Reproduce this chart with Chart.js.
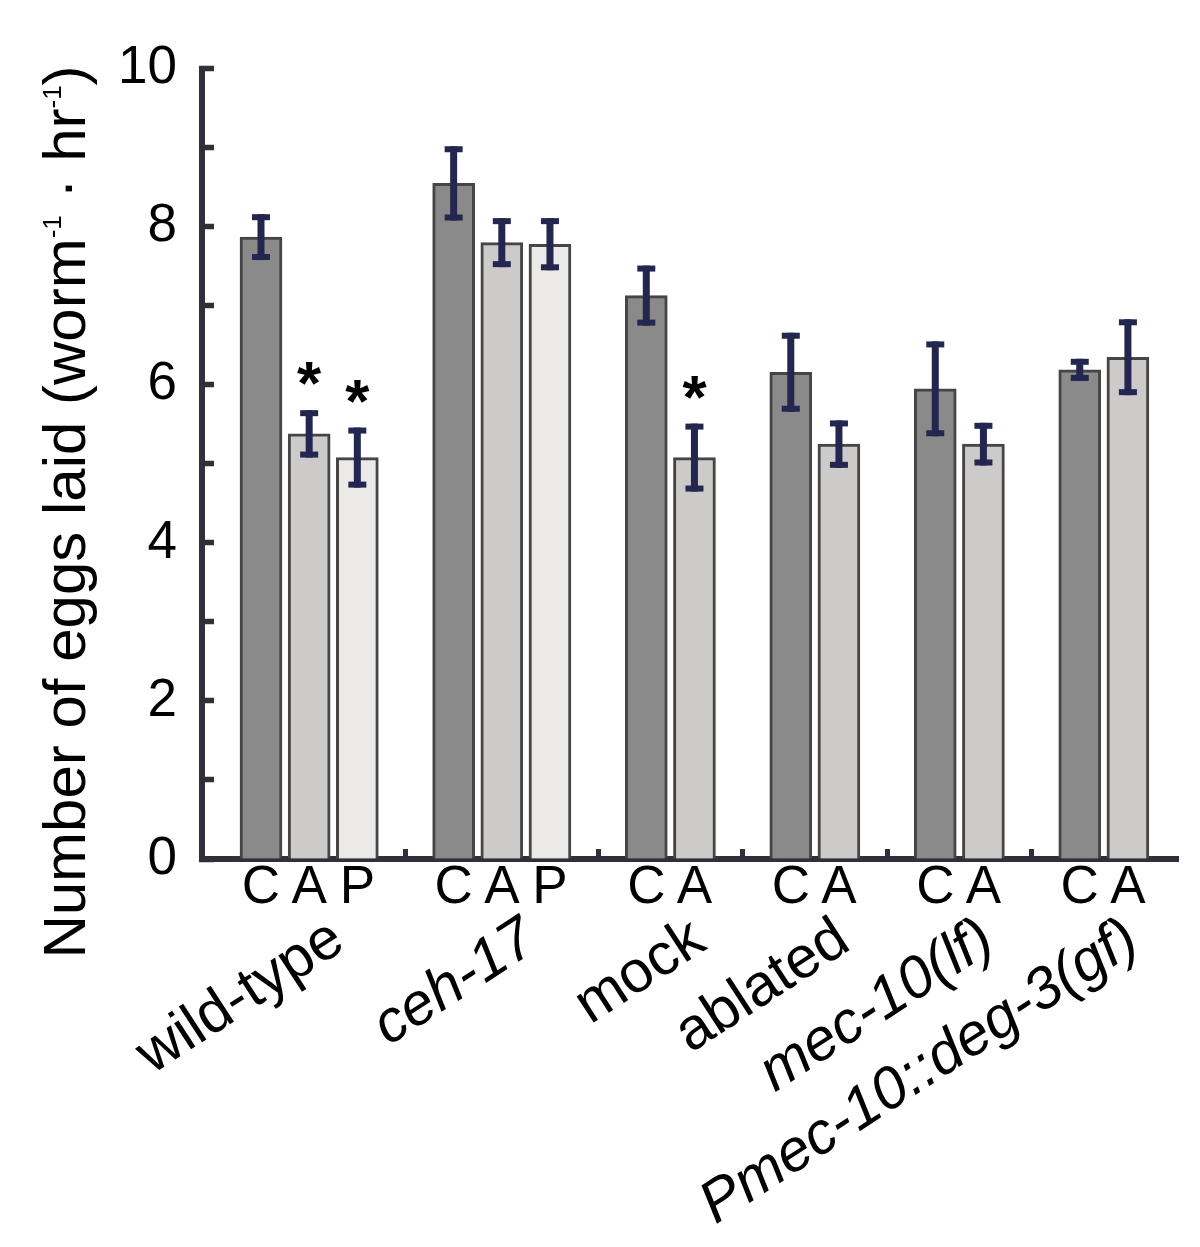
<!DOCTYPE html>
<html>
<head>
<meta charset="utf-8">
<script src="https://cdn.jsdelivr.net/npm/chart.js@4.4.0/dist/chart.umd.min.js"></script>
<style>
  html, body { margin: 0; padding: 0; background: #fff; }
  #wrap { width: 1200px; height: 1247px; }
</style>
</head>
<body>
<div id="wrap"><canvas id="eggChart"></canvas></div>
<script>
// groups along the x axis, each with its bar conditions (C = control, A = ablated, P = ...)
const groupNames = ['wild-type', 'ceh-17', 'mock', 'ablated', 'mec-10(lf)', 'Pmec-10::deg-3(gf)'];
const groupItalic = [false, true, false, false, true, true];
const groupConditions = [['C', 'A', 'P'], ['C', 'A', 'P'], ['C', 'A'], ['C', 'A'], ['C', 'A'], ['C', 'A']];

// one value per bar, in order
const eggMeans = [7.87, 5.38, 5.08, 8.55, 7.80, 7.78, 7.13, 5.08, 6.16, 5.25, 5.95, 5.25, 6.19, 6.35];
const eggErrors = [0.29, 0.30, 0.38, 0.47, 0.31, 0.33, 0.38, 0.43, 0.50, 0.30, 0.60, 0.27, 0.14, 0.48];
const significant = [false, true, true, false, false, false, false, true, false, false, false, false, false, false];

const yTickLabels = ['0', '', '2', '', '4', '', '6', '', '8', '', '10'];

const condColors = { C: '#8b8a8a', A: '#cdcaca', P: '#ece9e9' };
const AXIS = '#30303c';
const ERR = '#23264f';
const FONT = '"Liberation Sans", Arial, sans-serif';

// lay the bars out in slots, leaving one empty slot between groups
const barSlots = [];
const barConds = [];
const tickLabels = [];
const groupSlots = [];
const gapSlots = [];
let slot = 0;
groupConditions.forEach((conds, g) => {
    const first = slot;
    conds.forEach(c => {
        barSlots.push(slot);
        barConds.push(c);
        tickLabels[slot] = c;
        slot++;
    });
    groupSlots.push((first + slot - 1) / 2);
    if (g < groupConditions.length - 1) {
        gapSlots.push(slot);
        tickLabels[slot] = '';
        slot++;
    }
});

const errorBars = {
    id: 'errorBars',
    afterDatasetsDraw(chart) {
        const ctx = chart.ctx;
        const y = chart.scales.y;
        const meta = chart.getDatasetMeta(0);
        ctx.save();
        ctx.fillStyle = ERR;
        meta.data.forEach((bar, i) => {
            const top = y.getPixelForValue(eggMeans[i] + eggErrors[i]);
            const bot = y.getPixelForValue(eggMeans[i] - eggErrors[i]);
            ctx.fillRect(bar.x - 3.5, top, 7, bot - top);
            ctx.fillRect(bar.x - 9, top, 18, 6);
            ctx.fillRect(bar.x - 9, bot - 6, 18, 6);
        });
        // significance stars
        ctx.fillStyle = '#000';
        ctx.font = 'bold 62px ' + FONT;
        ctx.textAlign = 'center';
        ctx.textBaseline = 'alphabetic';
        meta.data.forEach((bar, i) => {
            if (!significant[i]) return;
            const top = y.getPixelForValue(eggMeans[i] + eggErrors[i]);
            ctx.fillText('*', bar.x, top - 33 + 27);
        });
        ctx.restore();
    }
};

const extraText = {
    id: 'extraText',
    afterDraw(chart) {
        const ctx = chart.ctx;
        const x = chart.scales.x;
        ctx.save();
        ctx.fillStyle = '#000';
        // group names, slanted under the C/A/P labels
        groupNames.forEach((name, g) => {
            ctx.save();
            ctx.translate(x.getPixelForValue(groupSlots[g]) + 38, 948);
            ctx.rotate(-33 * Math.PI / 180);
            ctx.font = (groupItalic[g] ? 'italic ' : '') + '59px ' + FONT;
            ctx.textAlign = 'right';
            ctx.textBaseline = 'alphabetic';
            ctx.fillText(name, 0, 0);
            ctx.restore();
        });

        // y axis title with superscripts
        const big = '60px ' + FONT;
        const small = '26px ' + FONT;
        const parts = [
            ['Number of eggs laid (worm', big, 0],
            ['-1', small, -24],
            [' \u00b7 hr', big, 0],
            ['-1', small, -24],
            [')', big, 0]
        ];
        let total = 0;
        parts.forEach(p => { ctx.font = p[1]; total += ctx.measureText(p[0]).width; });
        ctx.translate(85, 512);
        ctx.rotate(-Math.PI / 2);
        ctx.textAlign = 'left';
        ctx.textBaseline = 'alphabetic';
        let pos = -total / 2;
        parts.forEach(p => {
            ctx.font = p[1];
            ctx.fillText(p[0], pos, p[2]);
            pos += ctx.measureText(p[0]).width;
        });
        ctx.restore();
    }
};

const ctx = document.getElementById('eggChart').getContext('2d');
new Chart(ctx, {
    type: 'bar',
    data: {
        datasets: [{
            data: barSlots.map((s, i) => ({ x: s, y: eggMeans[i] })),
            backgroundColor: barConds.map(c => condColors[c]),
            borderColor: '#454545',
            borderWidth: 3,
            borderSkipped: 'start',
            barThickness: 42
        }]
    },
    options: {
        responsive: true,
        maintainAspectRatio: false,
        animation: false,
        layout: { padding: { left: 0, top: 67, right: 22, bottom: 0 } },
        plugins: {
            legend: { display: false },
            tooltip: { enabled: false }
        },
        scales: {
            x: {
                type: 'linear',
                offset: false,
                min: -1.225,
                max: 19.04,
                z: 1,
                afterBuildTicks: s => { s.ticks = tickLabels.map((_, i) => ({ value: i })); },
                afterFit: s => { s.height = 1247 - 859; },
                border: { color: AXIS, width: 6 },
                grid: {
                    drawOnChartArea: false,
                    offset: false,
                    tickLength: -10,
                    tickWidth: 5,
                    tickColor: c => (c.tick && gapSlots.includes(c.tick.value)) ? AXIS : 'rgba(0,0,0,0)'
                },
                ticks: {
                    autoSkip: false,
                    maxRotation: 0,
                    padding: 8,
                    color: '#000',
                    font: { family: FONT, size: 53 },
                    callback: v => tickLabels[v] || ''
                }
            },
            y: {
                min: 0,
                max: 10,
                afterBuildTicks: s => { s.ticks = yTickLabels.map((_, i) => ({ value: i })); },
                afterFit: s => { s.width = 202; },
                border: { color: AXIS, width: 6 },
                grid: {
                    drawOnChartArea: false,
                    tickLength: -12,
                    tickWidth: 5.5,
                    tickColor: AXIS
                },
                ticks: {
                    padding: 37,
                    color: '#000',
                    font: { family: FONT, size: 53 },
                    callback: v => yTickLabels[v]
                }
            }
        }
    },
    plugins: [errorBars, extraText]
});
</script>
</body>
</html>
